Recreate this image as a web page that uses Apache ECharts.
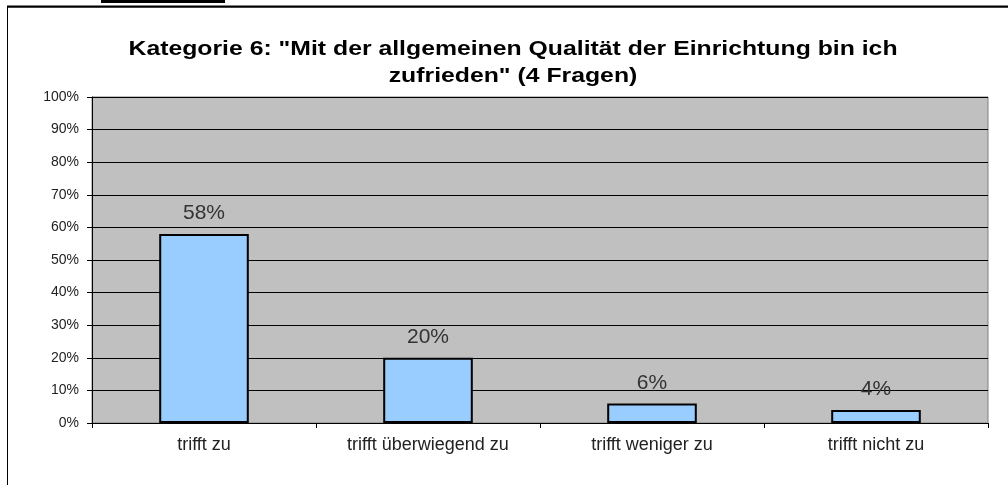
<!DOCTYPE html>
<html>
<head>
<meta charset="utf-8">
<script src="https://cdn.jsdelivr.net/npm/echarts@6/dist/echarts.min.js"></script>
<style>
html,body{margin:0;padding:0;background:#fff;}
#chart{width:1008px;height:485px;}
</style>
</head>
<body>
<div id="chart"></div>
<script>
var categories = ['trifft zu', 'trifft überwiegend zu', 'trifft weniger zu', 'trifft nicht zu'];
var values = [58, 20, 6, 4];
var titleText = 'Kategorie 6: "Mit der allgemeinen Qualität der Einrichtung bin ich\nzufrieden" (4 Fragen)';

var myChart = echarts.init(document.getElementById('chart'));
var option = {
	backgroundColor: '#fff',
	animation: false,
	graphic: [
		// outer chart frame (cut off at right/bottom)
		{ type: 'rect', shape: { x: 7.5, y: 7, width: 1010, height: 490 },
		  style: { fill: null, stroke: '#000', lineWidth: 1 }, z: -1 },
		{ type: 'line', shape: { x1: 7, y1: 6.5, x2: 1008, y2: 6.5 },
		  style: { stroke: '#000', lineWidth: 2 } },
		// underline of cut-off heading above the chart
		{ type: 'rect', shape: { x: 101, y: 0, width: 124, height: 3 },
		  style: { fill: '#000' } },
		// title, stretched like the original
		{ type: 'text', x: 513, y: 36, scaleX: 1.18,
		  style: {
			text: titleText,
			textAlign: 'center',
			textVerticalAlign: 'top',
			fontFamily: 'Liberation Sans, Arial',
			fontSize: 21,
			fontWeight: 'bold',
			lineHeight: 27,
			fill: '#000'
		  } }
	],
	grid: {
		left: 92,
		top: 97,
		right: 20,
		bottom: 62,
		show: true,
		backgroundColor: '#c0c0c0',
		borderColor: '#808080',
		borderWidth: 1
	},
	xAxis: {
		type: 'category',
		data: categories,
		axisLine: { lineStyle: { color: '#000', width: 1 } },
		axisTick: { show: true, alignWithLabel: false, length: 5, lineStyle: { color: '#000' } },
		axisLabel: {
			margin: 13,
			fontFamily: 'Liberation Sans, Arial',
			fontSize: 18,
			color: '#222'
		}
	},
	yAxis: {
		type: 'value',
		min: 0,
		max: 100,
		interval: 10,
		axisLine: { show: true, lineStyle: { color: '#000', width: 1 } },
		axisTick: { show: true, length: 5, lineStyle: { color: '#000' } },
		axisLabel: {
			formatter: '{value}%',
			margin: 13,
			fontFamily: 'Liberation Sans, Arial',
			fontSize: 14,
			color: '#222'
		},
		splitLine: { lineStyle: { color: '#000', width: 1 } }
	},
	series: [
		{
			type: 'bar',
			data: values,
			barCategoryGap: '60%',
			itemStyle: {
				color: '#99ccff',
				borderColor: '#000',
				borderWidth: 2
			},
			label: {
				show: true,
				position: 'top',
				distance: 10,
				formatter: '{c}%',
				fontFamily: 'Liberation Sans, Arial',
				fontSize: 21,
				color: '#333'
			}
		}
	]
};
myChart.setOption(option);
</script>
</body>
</html>
